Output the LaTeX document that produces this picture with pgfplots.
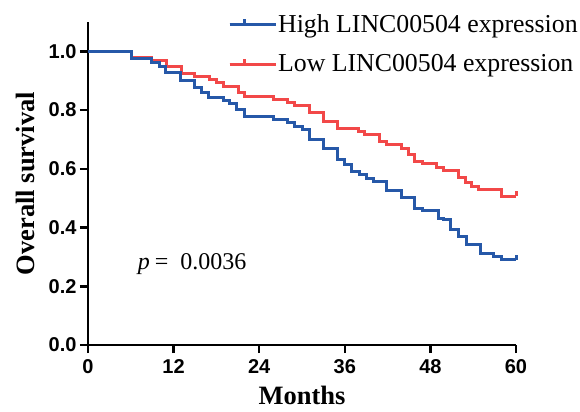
\documentclass[border=0pt]{standalone}
\usepackage{fontspec}
\setmainfont{Liberation Serif}
\setsansfont{Liberation Sans}
\usepackage{pgfplots}
\pgfplotsset{compat=1.18}

\definecolor{kmblue}{RGB}{38,88,168}
\definecolor{kmred}{RGB}{242,72,72}

\begin{document}
\begin{tikzpicture}
\begin{axis}[
    at={(0,0)}, anchor=origin,
    scale only axis,
    width=428bp, height=323bp,
    xmin=0, xmax=60, ymin=0, ymax=1.1,
    axis lines*=left,
    axis line style={line width=2.5bp, black},
    xtick={0,12,24,36,48,60},
    ytick={0,0.2,0.4,0.6,0.8,1.0},
    tick align=outside,
    major tick length=8bp,
    tick style={line width=2.5bp, black},
    /pgf/number format/assume math mode=true,
    yticklabel style={/pgf/number format/fixed, /pgf/number format/precision=1,
        /pgf/number format/fixed zerofill},
    xticklabel style={yshift=-3bp},
    tick label style={font=\sffamily\bfseries\fontsize{20bp}{22bp}\selectfont},
    xlabel={Months},
    ylabel={Overall survival},
    label style={font=\bfseries\fontsize{26.5bp}{28bp}\selectfont},
    xlabel style={yshift=-6bp},
    ylabel style={yshift=7bp},
    clip=false,
    reverse legend,
    legend style={at={(0.327,1.026)}, anchor=north west, draw=none, fill=none,
        inner sep=0pt, row sep=18.5bp,
        font=\fontsize{25.8bp}{27bp}\selectfont,
        nodes={inner sep=1pt}},
    legend cell align=left,
    legend image code/.code={
        \draw[#1] (0bp,0bp) -- (30bp,0bp);
        \draw[#1] (15bp,0bp) -- (15bp,5bp);
        \path (0bp,0bp) -- (46bp,0bp);
    },
]
% low expression group (drawn first, blue lies on top of it)
\addplot[const plot, kmred, line width=3bp] coordinates {
    (0,1.0) (6.1,0.978) (8.9,0.970) (11.0,0.947) (13.1,0.924) (15.0,0.913)
    (17.1,0.904) (18.0,0.893) (19.0,0.879) (21.1,0.859) (22.0,0.847)
    (26.0,0.836) (27.9,0.825) (29.0,0.816) (31.1,0.791) (33.0,0.760)
    (35.0,0.736) (37.9,0.728) (38.8,0.717) (40.9,0.694) (41.9,0.683)
    (44.0,0.668) (44.9,0.648) (45.8,0.626) (46.9,0.617) (48.9,0.605)
    (49.9,0.594) (51.9,0.572) (52.9,0.552) (53.8,0.540) (54.7,0.529)
    (57.9,0.506) (60,0.506)
};
\addlegendentry{Low LINC00504 expression}
% high expression group
\addplot[const plot, kmblue, line width=3bp] coordinates {
    (0,1.0) (6.1,0.976) (8.9,0.961) (10.0,0.948) (10.9,0.927) (12.9,0.901)
    (15.0,0.878) (15.9,0.859) (16.9,0.844) (19.0,0.834) (19.9,0.823)
    (20.8,0.802) (21.9,0.777) (26.0,0.767) (27.9,0.757) (29.0,0.745)
    (30.1,0.735) (31.0,0.700) (33.0,0.669) (35.0,0.631) (36.0,0.614)
    (37.0,0.592) (38.1,0.580) (39.1,0.567) (40.0,0.557) (41.9,0.526)
    (44.0,0.501) (45.8,0.466) (46.9,0.458) (49.1,0.432) (49.9,0.427)
    (50.8,0.392) (51.9,0.368) (53.0,0.341) (55.0,0.310) (56.9,0.302)
    (57.9,0.290) (60,0.290)
};
\addlegendentry{High LINC00504 expression}
% censor ticks at the end of follow-up
\addplot[kmred, line width=3bp, forget plot] coordinates {(60,0.506) (60,0.526)};
\addplot[kmblue, line width=3bp, forget plot] coordinates {(60,0.290) (60,0.306)};
\node[font=\fontsize{24bp}{26bp}\selectfont] at (axis cs:14.6,0.277)
    {\textit{p}\hspace{5bp}=\hspace{12bp}0.0036};
\end{axis}
\pgfresetboundingbox
\useasboundingbox (-88bp,-67bp) rectangle (492bp,345bp);
\end{tikzpicture}
\end{document}
